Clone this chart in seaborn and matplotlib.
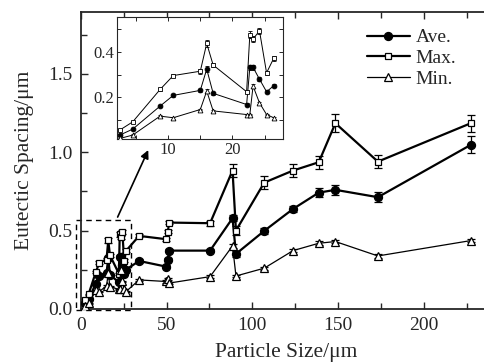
import matplotlib
matplotlib.use('Agg')
import matplotlib.pyplot as plt
from matplotlib.patches import Rectangle
from matplotlib.ticker import MultipleLocator
import seaborn as sns
import pandas as pd

# ============================
# Data
# ============================
size_small = [2.5, 4.5, 8.75, 10.8, 15.0, 16.0, 17.0, 22.2, 22.7, 23.2, 24.2, 25.3, 26.4]
max_small = [0.057, 0.093, 0.235, 0.296, 0.315, 0.437, 0.342, 0.225, 0.476, 0.456, 0.492, 0.308, 0.371]
ave_small = [0.035, 0.061, 0.162, 0.209, 0.231, 0.324, 0.218, 0.169, 0.332, 0.332, 0.28, 0.225, 0.251]
min_small = [0.02, 0.035, 0.118, 0.111, 0.147, 0.228, 0.141, 0.125, 0.125, 0.25, 0.176, 0.125, 0.111]
max_err_small = [0.004, 0.004, 0.006, 0.008, 0.01, 0.014, 0.008, 0.006, 0.014, 0.012, 0.014, 0.008, 0.01]
ave_err_small = [0.004, 0.004, 0.005, 0.006, 0.006, 0.012, 0.006, 0.006, 0.01, 0.01, 0.008, 0.006, 0.006]
min_err_small = [0.003, 0.003, 0.004, 0.004, 0.004, 0.008, 0.004, 0.004, 0.004, 0.008, 0.004, 0.004, 0.004]

size_large = [34, 49.7, 50.7, 51.6, 75.4, 88.5, 90.5, 107, 123.8, 138.8, 148.5, 173.3, 227.5]
max_large = [0.466, 0.445, 0.493, 0.551, 0.547, 0.883, 0.5, 0.806, 0.883, 0.936, 1.185, 0.94, 1.185]
ave_large = [0.306, 0.27, 0.313, 0.372, 0.372, 0.579, 0.351, 0.498, 0.638, 0.742, 0.76, 0.713, 1.047]
min_large = [0.185, 0.175, 0.19, 0.165, 0.206, 0.402, 0.21, 0.26, 0.372, 0.419, 0.43, 0.338, 0.436]
max_err_large = [0.01, 0.01, 0.01, 0.01, 0.015, 0.04, 0.03, 0.04, 0.04, 0.04, 0.058, 0.04, 0.055]
ave_err_large = [0.01, 0.01, 0.01, 0.01, 0.01, 0.02, 0.02, 0.02, 0.02, 0.03, 0.03, 0.03, 0.055]
min_err_large = [0.008, 0.008, 0.008, 0.008, 0.008, 0.012, 0.008, 0.01, 0.01, 0.012, 0.012, 0.01, 0.012]

series = ['Ave.', 'Max.', 'Min.']

sizes = size_small + size_large
rows = []
for name, vals, errs in [('Ave.', ave_small + ave_large, ave_err_small + ave_err_large),
                         ('Max.', max_small + max_large, max_err_small + max_err_large),
                         ('Min.', min_small + min_large, min_err_small + min_err_large)]:
    for s, v, e in zip(sizes, vals, errs):
        rows.append({'size': s, 'spacing': v, 'err': e, 'series': name})
df = pd.DataFrame(rows)

# ============================
# Style
# ============================
sns.set_theme(style='ticks')
plt.rcParams['font.family'] = ['Liberation Serif', 'DejaVu Serif']
plt.rcParams['xtick.direction'] = 'in'
plt.rcParams['ytick.direction'] = 'in'

styles = {
    'Ave.': dict(marker='o', mfc='black', lw=1.6, ms=5.8),
    'Max.': dict(marker='s', mfc='white', lw=1.6, ms=5.0),
    'Min.': dict(marker='^', mfc='white', lw=0.9, ms=5.5),
}

fig = plt.figure(figsize=(4.84, 3.63), dpi=100)
ax = fig.add_axes([0.167, 0.149, 0.85, 0.818])

for name in series:
    d = df[df['series'] == name]
    st = styles[name]
    sns.lineplot(data=d, x='size', y='spacing', ax=ax, color='black', lw=st['lw'],
                 marker=st['marker'], markersize=st['ms'],
                 markerfacecolor=st['mfc'], markeredgecolor='black', markeredgewidth=0.9,
                 label=name, zorder=3)
    ax.errorbar(d['size'], d['spacing'], yerr=d['err'], fmt='none', ecolor='black',
                elinewidth=0.9, capsize=3, capthick=0.9, zorder=2)

ax.set_xlim(0, 240)
ax.set_ylim(0, 1.895)
ax.xaxis.set_major_locator(MultipleLocator(50))
ax.xaxis.set_minor_locator(MultipleLocator(25))
ax.yaxis.set_major_locator(MultipleLocator(0.5))
ax.yaxis.set_minor_locator(MultipleLocator(0.25))
ax.yaxis.set_major_formatter(matplotlib.ticker.FormatStrFormatter('%.1f'))
ax.tick_params(which='both', top=True, right=True, width=1.0, labelsize=14)
ax.tick_params(axis='x', pad=6)
ax.tick_params(axis='y', pad=6)
ax.tick_params(which='major', length=5)
ax.tick_params(which='minor', length=4)
for sp in ax.spines.values():
    sp.set_linewidth(1.3)
ax.set_xlabel('Particle Size/\u03bcm', fontsize=15.5, labelpad=6)
ax.set_ylabel('Eutectic Spacing/\u03bcm', fontsize=15.5, labelpad=10)

leg = ax.legend(loc='upper left', bbox_to_anchor=(357 / 484, 1 - 19 / 363),
                bbox_transform=fig.transFigure, frameon=False, fontsize=14,
                handlelength=2.2, handletextpad=0.3, labelspacing=0.17, borderpad=0)

# dashed zoom box and arrow
ax.add_patch(Rectangle((-2.9, -0.005), 31.9, 0.573, fill=False, ls=(0, (4, 3)),
                       lw=1.0, ec='black', clip_on=False, zorder=1))
ax.annotate('', xy=(40, 1.03), xytext=(20.8, 0.57),
            arrowprops=dict(arrowstyle='-|>', color='black', lw=1.2, mutation_scale=12))

# ============================
# Inset
# ============================
ins = fig.add_axes([0.241, 0.616, 0.343, 0.336])
for name in series:
    d = df[(df['series'] == name) & (df['size'] < 28)]
    st = styles[name]
    sns.lineplot(data=d, x='size', y='spacing', ax=ins, color='black', lw=0.7,
                 marker=st['marker'], markersize=3.5,
                 markerfacecolor=st['mfc'], markeredgecolor='black', markeredgewidth=0.6,
                 legend=False, zorder=3)
    ins.errorbar(d['size'], d['spacing'], yerr=d['err'], fmt='none', ecolor='black',
                 elinewidth=0.6, capsize=1.5, capthick=0.6, zorder=2)

ins.set_xlim(2.0, 27.8)
ins.set_ylim(0.016, 0.551)
ins.xaxis.set_major_locator(MultipleLocator(10))
ins.xaxis.set_minor_locator(MultipleLocator(5))
ins.yaxis.set_major_locator(MultipleLocator(0.2))
ins.yaxis.set_minor_locator(MultipleLocator(0.1))
ins.yaxis.set_major_formatter(matplotlib.ticker.FormatStrFormatter('%.1f'))
ins.tick_params(which='both', top=True, right=True, width=0.7, labelsize=12, pad=2)
ins.tick_params(which='major', length=3)
ins.tick_params(which='minor', length=3)
ins.set_xlabel('')
ins.set_ylabel('')
for sp in ins.spines.values():
    sp.set_linewidth(0.8)

fig.savefig('out.png', dpi=100)
